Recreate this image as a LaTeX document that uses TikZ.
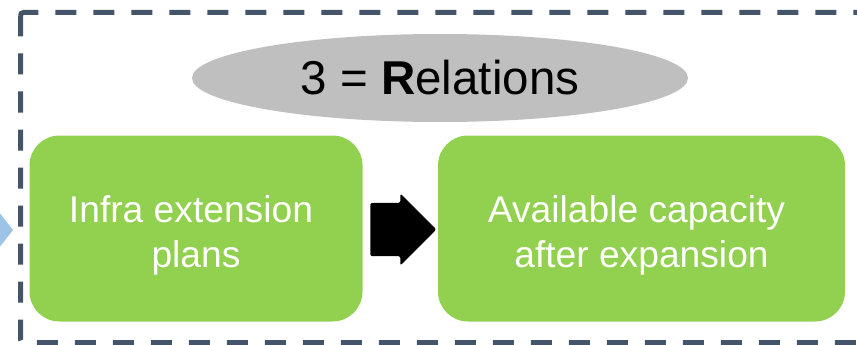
\documentclass[tikz,border=0pt]{standalone}
\usepackage{fontspec}
\setmainfont{Liberation Sans}
\usetikzlibrary{shapes.geometric,shapes.arrows}
\definecolor{frameblue}{HTML}{44546A}
\definecolor{boxgreen}{HTML}{92D050}
\definecolor{ovalgray}{HTML}{BFBFBF}
\definecolor{feedblue}{HTML}{9DC3E6}
% strut that lowers the first line of a step label
\newcommand{\steplift}{\rule{0pt}{41pt}}
\tikzset{
  greenbox/.style={fill=boxgreen, draw=none, rounded corners=30pt,
    minimum height=186pt, text=white, align=center,
    font=\fontsize{37.2}{45}\selectfont},
  titleoval/.style={ellipse, fill=ovalgray, draw=none,
    minimum width=496pt, minimum height=88pt,
    font=\fontsize{47.5}{56}\selectfont},
  flowarrow/.style={single arrow, fill=black, draw=none,
    minimum height=66pt, minimum width=72pt,
    inner xsep=0pt, inner ysep=20pt, rounded corners=2pt},
  frame/.style={draw=frameblue, line width=5pt, dash pattern=on 21pt off 17pt,
    rounded corners=3pt}
}
\begin{document}
\begin{tikzpicture}[x=1pt, y=-1pt]
  \useasboundingbox (0,0) rectangle (857,345);
  \clip (0,0) rectangle (857,345);
  % incoming arrow tip at the left edge
  \fill[feedblue] (-5,207) -- (13,230) -- (-5,253) -- cycle;
  % dashed frame around the group
  \draw[frame] (20.5,12.5) rectangle (900,342.5);
  % title oval
  \node[titleoval] (title) at (440,78) {3 = \textbf{R}elations};
  % the two steps
  \node[greenbox, minimum width=333pt] (plans) at (196,228.5)
    {\steplift Infra extension\kern10pt\\plans};
  \node[greenbox, minimum width=407pt] (capacity) at (641.5,228.5)
    {\steplift Available capacity\kern10pt\\after expansion};
  % arrow between the steps
  \node[flowarrow] (step) at (390,229.5) {};
\end{tikzpicture}
\end{document}
